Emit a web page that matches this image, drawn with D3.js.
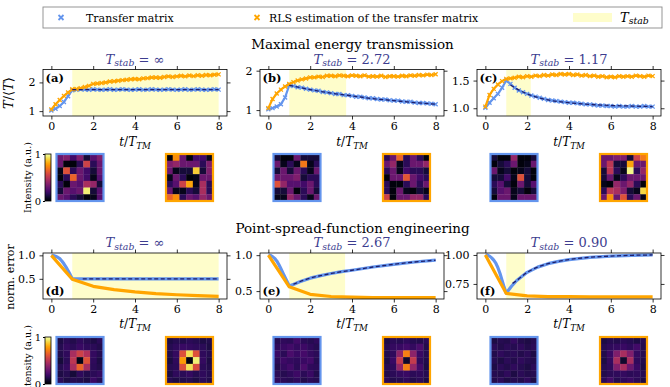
<!DOCTYPE html>
<html><head><meta charset="utf-8">
<script src="https://cdn.jsdelivr.net/npm/d3@7"></script>
<style>body{margin:0;background:#fff}svg{display:block}text{font-family:"DejaVu Serif",serif}</style>
</head><body><svg id="c" width="670" height="387"></svg>
<script>
// ---------------- DATA ----------------
const xTicks = [0, 2, 4, 6, 8];
const tTop = [0.0,0.2,0.4,0.6,0.8,1.0,1.2,1.4,1.6,1.8,2.0,2.2,2.4,2.6,2.8,3.0,3.2,3.4,3.6,3.8,4.0,4.2,4.4,4.6,4.8,5.0,5.2,5.4,5.6,5.8,6.0,6.2,6.4,6.6,6.8,7.0,7.2,7.4,7.6,7.8,8.0];
const energyA_TM  = [1.02,1.08,1.18,1.32,1.52,1.73,1.74,1.76,1.75,1.74,1.76,1.75,1.74,1.75,1.76,1.74,1.75,1.76,1.75,1.74,1.75,1.76,1.74,1.75,1.76,1.75,1.74,1.75,1.76,1.75,1.74,1.75,1.76,1.74,1.75,1.76,1.75,1.74,1.75,1.76,1.75];
const energyA_RLS = [1.06,1.24,1.39,1.53,1.65,1.76,1.77,1.80,1.84,1.88,1.95,1.96,1.98,2.00,2.03,2.04,2.06,2.08,2.09,2.11,2.12,2.11,2.14,2.15,2.17,2.17,2.16,2.19,2.21,2.19,2.21,2.23,2.21,2.24,2.22,2.25,2.23,2.26,2.25,2.27,2.28];
const energyB_TM  = [1.02,1.05,1.09,1.15,1.32,1.63,1.61,1.58,1.57,1.54,1.52,1.50,1.49,1.46,1.45,1.43,1.41,1.41,1.38,1.38,1.36,1.34,1.34,1.32,1.30,1.30,1.28,1.27,1.27,1.25,1.24,1.24,1.22,1.21,1.21,1.19,1.18,1.18,1.17,1.16,1.15];
const energyB_RLS = [1.05,1.28,1.42,1.52,1.60,1.66,1.71,1.75,1.78,1.80,1.83,1.83,1.85,1.84,1.87,1.87,1.86,1.88,1.87,1.86,1.88,1.87,1.86,1.88,1.85,1.86,1.85,1.87,1.84,1.86,1.86,1.85,1.87,1.86,1.88,1.87,1.89,1.88,1.90,1.89,1.91];
const energyC_TM  = [1.01,1.10,1.18,1.26,1.37,1.50,1.44,1.37,1.32,1.29,1.26,1.23,1.21,1.19,1.17,1.15,1.14,1.13,1.12,1.11,1.10,1.10,1.09,1.08,1.07,1.07,1.06,1.05,1.05,1.04,1.04,1.03,1.04,1.03,1.03,1.04,1.03,1.03,1.04,1.03,1.03];
const energyC_RLS = [1.03,1.24,1.35,1.43,1.49,1.53,1.54,1.55,1.57,1.56,1.58,1.57,1.59,1.58,1.60,1.59,1.61,1.60,1.62,1.61,1.62,1.60,1.61,1.59,1.60,1.58,1.59,1.57,1.58,1.56,1.57,1.56,1.58,1.57,1.58,1.57,1.59,1.58,1.57,1.59,1.58];
const fitA_t = [1, 8];               const fitA = [1.75, 1.75];
const fitB_t = [1,2,3,4,5,6,7,8];    const fitB = [1.63,1.52,1.43,1.36,1.29,1.24,1.19,1.15];
const fitC_t = [1.2,1.5,2,3,4,5,6,7,8]; const fitC = [1.42,1.35,1.26,1.15,1.10,1.07,1.05,1.04,1.03];

const tInt = [0,1,2,3,4,5,6,7,8];
const tPsfD = [0,0.1,0.2,0.3,0.4,0.5,0.6,0.7,0.8,0.9,1.0,8.0];
const psfD_TM  = [1.0,0.995,0.98,0.96,0.93,0.88,0.82,0.75,0.67,0.59,0.50,0.50];
const psfD_RLS = [1.0,0.49,0.34,0.27,0.22,0.185,0.16,0.14,0.125];
const fitD_t = [1.5, 8]; const fitD = [0.5, 0.5];
const tPsfEF = [0,0.1,0.2,0.3,0.4,0.5,0.6,0.7,0.8,0.9,1.0,1.25,1.5,2,2.5,3,3.5,4,5,6,7,8];
const psfE_TM  = [1.0,0.995,0.98,0.955,0.92,0.87,0.81,0.75,0.69,0.63,0.57,0.60,0.63,0.68,0.715,0.745,0.77,0.79,0.835,0.872,0.905,0.93];
const psfE_RLS = [1.0,0.56,0.455,0.425,0.415,0.41,0.41,0.41,0.41];
const fitE_t = [1.2,1.5,2,2.5,3,3.5,4,5,6,7,8]; const fitE = [0.595,0.63,0.68,0.715,0.745,0.77,0.79,0.835,0.872,0.905,0.93];
const psfF_TM  = [1.0,0.998,0.99,0.975,0.955,0.93,0.89,0.84,0.78,0.72,0.67,0.73,0.78,0.85,0.895,0.925,0.945,0.96,0.98,0.99,0.997,1.0];
const psfF_RLS = [1.0,0.668,0.647,0.641,0.64,0.639,0.639,0.638,0.638];
const fitF_t = [1.3,1.5,2,2.5,3,3.5,4,5,6,7,8]; const fitF = [0.755,0.78,0.85,0.895,0.925,0.945,0.96,0.98,0.99,0.997,1.0];

const stabStart = 1;
const stabDur = [Infinity, 2.72, 1.17, Infinity, 2.67, 0.90];
const stabText = ["∞", "2.72", "1.17", "∞", "2.67", "0.90"];
const yTicksA = [1, 2], yTicksB = [1, 2], yTicksC = [1.0, 1.5];
const yTicksD = [0.5, 1.0], yTicksE = [0.5, 1.0], yTicksF = [0.75, 1.00];
const panelLabels = ["(a)","(b)","(c)","(d)","(e)","(f)"];

// 7x7 intensity tiles
const tileA_TM = [[0.30,0.35,0.20,0.35,0.10,0.25,0.35],[0.30,0.02,0.02,0.15,0.55,0.15,0.30],[0.04,0.60,0.15,0.30,0.20,0.10,0.30],[0.02,0.15,0.65,0.30,0.20,0.05,0.25],[0.15,0.02,0.30,0.25,0.45,0.40,0.10],[0.10,0.30,0.25,0.30,0.95,0.10,0.25],[0.30,0.25,0.15,0.10,0.02,0.05,0.25]];
const tileA_RLS = [[0.02,0.75,0.30,0.02,0.20,0.20,0.05],[0.35,0.40,0.30,0.30,0.30,0.15,0.35],[0.30,0.05,0.10,0.10,0.88,0.10,0.35],[0.05,0.30,0.15,0.02,0.05,0.30,0.30],[0.15,0.25,0.55,0.80,0.05,0.45,0.15],[0.30,0.05,0.05,0.15,0.10,0.45,0.15],[0.65,0.75,0.15,0.30,0.25,0.40,0.30]];
const tileB_TM = [[0.10,0.02,0.02,0.30,0.10,0.10,0.10],[0.30,0.05,0.15,0.05,0.70,0.05,0.15],[0.10,0.30,0.10,0.30,0.15,0.05,0.30],[0.30,0.30,0.30,0.35,0.10,0.15,0.15],[0.60,0.40,0.25,0.25,0.20,0.30,0.15],[0.10,0.10,0.30,0.02,0.15,0.30,0.10],[0.05,0.05,0.40,0.30,0.15,0.05,0.30]];
const tileB_RLS = [[0.15,0.30,0.65,0.15,0.30,0.15,0.02],[0.30,0.40,0.05,0.15,0.30,0.30,0.40],[0.15,0.30,0.05,0.20,0.15,0.15,0.10],[0.02,0.30,0.30,0.62,0.30,0.20,0.15],[0.15,0.02,0.02,0.15,0.30,0.15,0.30],[0.15,0.02,0.30,0.05,0.02,0.10,0.05],[0.55,0.02,0.30,0.30,0.40,0.40,0.15]];
const tileC_TM = [[0.10,0.02,0.02,0.40,0.02,0.02,0.10],[0.02,0.10,0.15,0.30,0.02,0.05,0.30],[0.30,0.05,0.10,0.02,0.05,0.10,0.02],[0.10,0.10,0.20,0.05,0.60,0.10,0.02],[0.15,0.25,0.10,0.02,0.30,0.10,0.25],[0.10,0.25,0.30,0.05,0.10,0.02,0.10],[0.02,0.30,0.30,0.05,0.30,0.30,0.30]];
const tileC_RLS = [[0.30,0.30,0.35,0.35,0.10,0.55,0.70],[0.30,0.50,0.10,0.10,0.80,0.30,0.30],[0.10,0.50,0.15,0.05,0.97,0.15,0.40],[0.10,0.30,0.05,0.15,0.30,0.30,0.30],[0.05,0.02,0.40,0.30,0.40,0.15,0.02],[0.15,0.50,0.45,0.35,0.10,0.05,0.90],[0.30,0.75,0.30,0.60,0.15,0.30,0.05]];
const tileD_TM = [[0.12,0.15,0.13,0.16,0.14,0.12,0.15],[0.14,0.17,0.15,0.18,0.16,0.15,0.13],[0.13,0.16,0.45,0.55,0.47,0.17,0.14],[0.10,0.15,0.50,0.04,0.60,0.16,0.12],[0.14,0.17,0.45,0.65,0.45,0.15,0.13],[0.12,0.14,0.10,0.16,0.13,0.15,0.17],[0.15,0.12,0.14,0.13,0.12,0.18,0.14]];
const tileD_RLS = [[0.12,0.14,0.13,0.15,0.14,0.12,0.13],[0.14,0.16,0.18,0.17,0.16,0.15,0.12],[0.13,0.17,0.60,0.92,0.60,0.16,0.14],[0.11,0.16,0.78,0.03,0.95,0.17,0.12],[0.14,0.15,0.60,0.92,0.58,0.15,0.13],[0.12,0.16,0.15,0.17,0.14,0.16,0.14],[0.14,0.12,0.13,0.14,0.12,0.15,0.13]];
const tileE_TM = [[0.14,0.16,0.15,0.20,0.15,0.14,0.16],[0.16,0.18,0.20,0.17,0.19,0.16,0.14],[0.18,0.15,0.22,0.18,0.21,0.17,0.15],[0.15,0.19,0.17,0.16,0.18,0.20,0.14],[0.13,0.17,0.20,0.15,0.22,0.16,0.15],[0.15,0.14,0.16,0.19,0.15,0.18,0.13],[0.16,0.15,0.14,0.16,0.13,0.15,0.14]];
const tileE_RLS = [[0.12,0.15,0.14,0.16,0.14,0.13,0.15],[0.14,0.17,0.18,0.20,0.17,0.22,0.13],[0.13,0.16,0.38,0.72,0.38,0.18,0.14],[0.12,0.18,0.52,0.08,0.52,0.16,0.13],[0.14,0.16,0.40,0.72,0.40,0.20,0.12],[0.13,0.15,0.17,0.18,0.15,0.16,0.14],[0.15,0.13,0.14,0.16,0.13,0.15,0.12]];
const tileF_TM = [[0.12,0.14,0.13,0.17,0.13,0.12,0.14],[0.15,0.13,0.15,0.14,0.16,0.13,0.15],[0.13,0.16,0.14,0.15,0.13,0.15,0.12],[0.14,0.12,0.15,0.13,0.16,0.14,0.13],[0.12,0.15,0.13,0.16,0.14,0.12,0.15],[0.14,0.13,0.16,0.12,0.15,0.13,0.14],[0.13,0.15,0.12,0.14,0.13,0.16,0.12]];
const tileF_RLS = [[0.12,0.14,0.13,0.15,0.14,0.12,0.14],[0.14,0.16,0.17,0.18,0.16,0.20,0.13],[0.13,0.18,0.35,0.45,0.35,0.17,0.14],[0.12,0.17,0.45,0.08,0.45,0.16,0.13],[0.14,0.16,0.35,0.45,0.30,0.18,0.12],[0.13,0.15,0.16,0.17,0.15,0.16,0.14],[0.15,0.20,0.14,0.16,0.18,0.15,0.12]];
const cbarTicks = [0, 1];

// ---------------- LAYOUT ----------------
const svg = d3.select("#c");
const W = 184;
const colLeft = [43, 260, 477];
const rowBox = [[69.5, 116], [253, 299]];
const tileY = [154, 337];
const TILE = 47;
const BLUE = "#6495ed", ORANGE = "#ffa500", FIT = "#1f1f6b", SPAN = "#fefdcb", TCOL = "#3d3d8f";
const MATH = "Liberation Serif";

const panels = [
  {col:0,row:0,yDom:[0.83,2.45],ticks:yTicksA,fmt:d3.format("d"),tm:[tTop,energyA_TM],rls:[tTop,energyA_RLS],fit:[fitA_t,fitA],tiles:[tileA_TM,tileA_RLS]},
  {col:1,row:0,yDom:[0.85,2.03],ticks:yTicksB,fmt:d3.format("d"),tm:[tTop,energyB_TM],rls:[tTop,energyB_RLS],fit:[fitB_t,fitB],tiles:[tileB_TM,tileB_RLS]},
  {col:2,row:0,yDom:[0.86,1.70],ticks:yTicksC,fmt:d3.format(".1f"),tm:[tTop,energyC_TM],rls:[tTop,energyC_RLS],fit:[fitC_t,fitC],tiles:[tileC_TM,tileC_RLS]},
  {col:0,row:1,yDom:[0.07,1.05],ticks:yTicksD,fmt:d3.format(".1f"),tm:[tPsfD,psfD_TM],rls:[tInt,psfD_RLS],fit:[fitD_t,fitD],tiles:[tileD_TM,tileD_RLS]},
  {col:1,row:1,yDom:[0.39,1.03],ticks:yTicksE,fmt:d3.format(".1f"),tm:[tPsfEF,psfE_TM],rls:[tInt,psfE_RLS],fit:[fitE_t,fitE],tiles:[tileE_TM,tileE_RLS]},
  {col:2,row:1,yDom:[0.62,1.017],ticks:yTicksF,fmt:d3.format(".2f"),tm:[tPsfEF,psfF_TM],rls:[tInt,psfF_RLS],fit:[fitF_t,fitF],tiles:[tileF_TM,tileF_RLS]}
];

const color = d3.scaleSequential(d3.interpolateInferno).domain([0, 1]);
const defs = svg.append("defs");

function mathT(sel, sub, size) {
  sel.append("tspan").attr("font-style","italic").text("T");
  sel.append("tspan").attr("font-style","italic").attr("font-size", size*0.72).attr("dy", size*0.22).text(sub);
}

panels.forEach((p, i) => {
  const left = colLeft[p.col], top = rowBox[p.row][0], bot = rowBox[p.row][1];
  const x = d3.scaleLinear().domain([-0.4, 8.4]).range([left, left + W]);
  const y = d3.scaleLinear().domain(p.yDom).range([bot, top]);
  const g = svg.append("g");
  const cid = "clip" + i;
  defs.append("clipPath").attr("id", cid).append("rect")
    .attr("x", left).attr("y", top).attr("width", W).attr("height", bot - top);
  const pg = g.append("g").attr("clip-path", `url(#${cid})`);
  const spanEnd = Math.min(stabStart + stabDur[i], 8);
  pg.append("rect").attr("x", x(stabStart)).attr("y", top)
    .attr("width", x(spanEnd) - x(stabStart)).attr("height", bot - top).attr("fill", SPAN);
  const line = d3.line().x(d => x(d[0])).y(d => y(d[1]));
  const markers = p.row === 0;
  [[p.tm, BLUE], [p.rls, ORANGE]].forEach(([s, c]) => {
    const pts = s[0].map((t, k) => [t, s[1][k]]);
    pg.append("path").datum(pts).attr("d", line).attr("fill", "none")
      .attr("stroke", c).attr("stroke-width", markers ? 2.2 : 3.2).attr("stroke-linejoin", "round");
    if (markers) {
      pg.selectAll(null).data(pts).join("path")
        .attr("transform", d => `translate(${x(d[0])},${y(d[1])})`)
        .attr("d", "M-2,-2L2,2M-2,2L2,-2").attr("stroke", c).attr("stroke-width", 1.3);
    }
  });
  const fpts = p.fit[0].map((t, k) => [t, p.fit[1][k]]);
  pg.append("path").datum(fpts).attr("d", d3.line().curve(d3.curveMonotoneX).x(d => x(d[0])).y(d => y(d[1])))
    .attr("fill", "none").attr("stroke", FIT).attr("stroke-width", 1.3).attr("stroke-dasharray", "4,2.5");

  const ax = (gen, tr) => {
    const a = g.append("g").attr("transform", tr).call(gen);
    a.select(".domain").remove();
    a.selectAll("text").attr("font-family", "DejaVu Serif").attr("font-size", 11).attr("fill", "#000");
    a.selectAll("line").attr("stroke", "#000").attr("stroke-width", 0.8);
  };
  ax(d3.axisBottom(x).tickValues(xTicks).tickSize(3.5).tickPadding(3).tickFormat(d3.format("d")), `translate(0,${bot})`);
  ax(d3.axisTop(x).tickValues(xTicks).tickSize(3.5).tickFormat(""), `translate(0,${top})`);
  ax(d3.axisLeft(y).tickValues(p.ticks).tickSize(3.5).tickPadding(4).tickFormat(p.fmt), `translate(${left},0)`);
  ax(d3.axisRight(y).tickValues(p.ticks).tickSize(3.5).tickFormat(""), `translate(${left + W},0)`);
  g.append("rect").attr("x", left).attr("y", top).attr("width", W).attr("height", bot - top)
    .attr("fill", "none").attr("stroke", "#000").attr("stroke-width", 0.8);

  // panel label
  g.append("text").attr("x", left + 2.5).attr("y", p.row === 0 ? top + 12.5 : bot - 4)
    .attr("font-weight", "bold").attr("font-size", 11.5).text(panelLabels[i]);
  // stab title
  const cx = left + W / 2;
  const tt = g.append("text").attr("x", cx).attr("y", top - 6).attr("text-anchor", "middle")
    .attr("fill", TCOL).attr("font-family", MATH).attr("font-size", 13);
  mathT(tt, "stab", 13);
  tt.append("tspan").attr("dy", -13 * 0.22).text(" = " + stabText[i]);
  // x label
  const xl = g.append("text").attr("x", cx).attr("y", p.row === 0 ? 146 : 328).attr("text-anchor", "middle")
    .attr("font-family", MATH).attr("font-size", 12);
  xl.append("tspan").attr("font-style", "italic").text("t");
  xl.append("tspan").text("/");
  mathT(xl, "TM", 12);

  // tiles
  p.tiles.forEach((tile, j) => {
    const x0 = left + (j === 0 ? 13.5 : 123), y0 = tileY[p.row];
    const bx = d3.scaleBand().domain(d3.range(7)).range([x0, x0 + TILE]);
    const by = d3.scaleBand().domain(d3.range(7)).range([y0, y0 + TILE]);
    const cells = tile.flatMap((row, r) => row.map((v, c) => ({r, c, v})));
    g.append("g").selectAll("rect").data(cells).join("rect")
      .attr("x", d => bx(d.c)).attr("y", d => by(d.r))
      .attr("width", bx.bandwidth() + 0.3).attr("height", by.bandwidth() + 0.3)
      .attr("fill", d => color(d.v));
    g.append("rect").attr("x", x0).attr("y", y0).attr("width", TILE).attr("height", TILE)
      .attr("fill", "none").attr("stroke", j === 0 ? BLUE : ORANGE).attr("stroke-width", 2.2);
  });
});

// y labels
function rotLabel(x, y, build, size, family) {
  const t = svg.append("text").attr("transform", `translate(${x},${y}) rotate(-90)`)
    .attr("text-anchor", "middle").attr("font-size", size).attr("font-family", family);
  build(t);
}
rotLabel(13, 93, t => {
  t.append("tspan").attr("font-style", "italic").text("T");
  t.append("tspan").text("/⟨");
  t.append("tspan").attr("font-style", "italic").text("T");
  t.append("tspan").text("⟩");
}, 13, MATH);
rotLabel(14, 277, t => t.text("norm. error"), 11, "DejaVu Serif");

// colorbars
const grad = defs.append("linearGradient").attr("id", "cb").attr("x1", 0).attr("y1", 1).attr("x2", 0).attr("y2", 0);
d3.range(0, 1.0001, 0.05).forEach(s => grad.append("stop").attr("offset", s).attr("stop-color", color(s)));
tileY.forEach(ty => {
  const cy = d3.scaleLinear().domain([0, 1]).range([ty + TILE, ty]);
  svg.append("rect").attr("x", 45).attr("y", ty).attr("width", 6).attr("height", TILE)
    .attr("fill", "url(#cb)").attr("stroke", "#000").attr("stroke-width", 0.8);
  const a = svg.append("g").attr("transform", "translate(45,0)")
    .call(d3.axisLeft(cy).tickValues(cbarTicks).tickSize(2).tickPadding(2).tickFormat(d3.format("d")));
  a.select(".domain").remove();
  a.selectAll("text").attr("font-family", "DejaVu Serif").attr("font-size", 10).attr("fill", "#000");
  a.selectAll("line").attr("stroke", "#000");
  rotLabel(31, ty + TILE / 2, t => t.text("Intensity (a.u.)"), 9.5, "DejaVu Serif");
});

// section titles
svg.append("text").attr("x", 352.5).attr("y", 49).attr("text-anchor", "middle").attr("font-size", 13.5).text("Maximal energy transmission");
svg.append("text").attr("x", 352.5).attr("y", 233).attr("text-anchor", "middle").attr("font-size", 13.5).text("Point-spread-function engineering");

// legend
const lg = svg.append("g");
lg.append("rect").attr("x", 43).attr("y", 7).attr("width", 619).attr("height", 21)
  .attr("fill", "#fff").attr("stroke", "#8a8a8a").attr("stroke-width", 0.9);
[[61, BLUE, 86, "Transfer matrix"], [257, ORANGE, 269, "RLS estimation of the transfer matrix"]].forEach(([mx, c, tx, s]) => {
  lg.append("path").attr("transform", `translate(${mx},17.5)`).attr("d", "M-2.5,-2.5L2.5,2.5M-2.5,2.5L2.5,-2.5")
    .attr("stroke", c).attr("stroke-width", 1.8);
  lg.append("text").attr("x", tx).attr("y", 21.5).attr("font-size", 11).text(s);
});
lg.append("rect").attr("x", 573).attr("y", 13).attr("width", 39).attr("height", 9).attr("fill", SPAN);
const lt = lg.append("text").attr("x", 620).attr("y", 21.5).attr("font-family", MATH).attr("font-size", 13);
mathT(lt, "stab", 13);
</script></body></html>
